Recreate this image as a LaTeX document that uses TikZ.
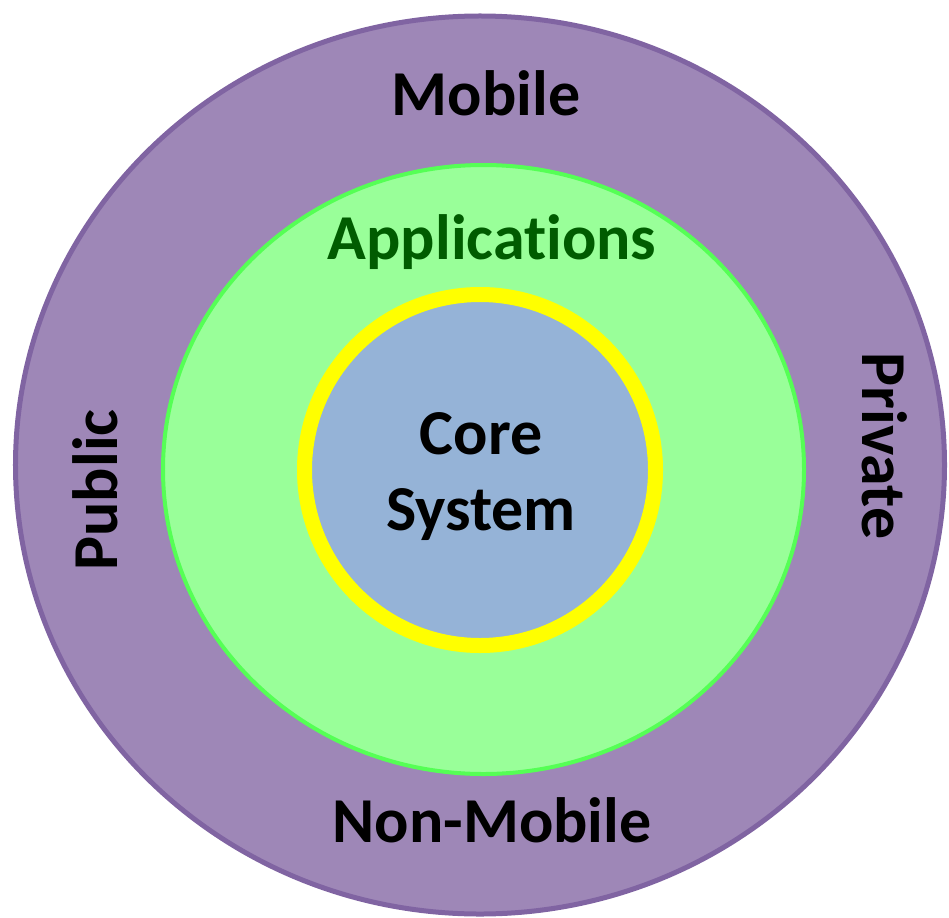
\documentclass[tikz,border=0pt]{standalone}
\usepackage{fontspec}
\setmainfont[Ligatures={NoCommon}]{Carlito}
\usetikzlibrary{shapes.geometric}
\definecolor{outerfill}{RGB}{158,135,183}
\definecolor{outerline}{RGB}{128,100,162}
\definecolor{appfill}{RGB}{153,255,153}
\definecolor{appline}{RGB}{85,255,85}
\definecolor{apptext}{RGB}{0,92,0}
\definecolor{corefill}{RGB}{149,179,215}
\definecolor{coreline}{RGB}{255,255,0}
\tikzset{
  ring/.style={ellipse, inner sep=0pt},
  lbl/.style={font=\fontsize{64bp}{76bp}\selectfont\bfseries, inner sep=0pt, align=center}
}
\begin{document}
\begin{tikzpicture}[x=1bp, y=-1bp]
  \useasboundingbox (0,0) rectangle (949,918);
  % rings, outside in
  \node at (480,465) [ring, draw=outerline, fill=outerfill, line width=5bp, minimum width=929bp, minimum height=898bp] (outer) {};
  \node at (483.5,469.5) [ring, draw=appline, fill=appfill, line width=4bp, minimum width=641bp, minimum height=609bp] (apps) {};
  \node at (480,470) [circle, inner sep=0pt, draw=coreline, fill=corefill, line width=15bp, minimum size=351bp] (core) {};
  % labels
  \node at (486,93) [lbl] (mobile) {Mobile};
  \node at (492,820) [lbl] (nonmobile) {Non-Mobile};
  \node at (95,490) [lbl, rotate=90] (public) {Public};
  \node at (885,446) [lbl, rotate=-90] (private) {Private};
  \node at (492,242) [lbl, text=apptext] (applications) {Applications};
  \node at (481,477) [lbl] (coresys) {Core\\System};
\end{tikzpicture}
\end{document}
